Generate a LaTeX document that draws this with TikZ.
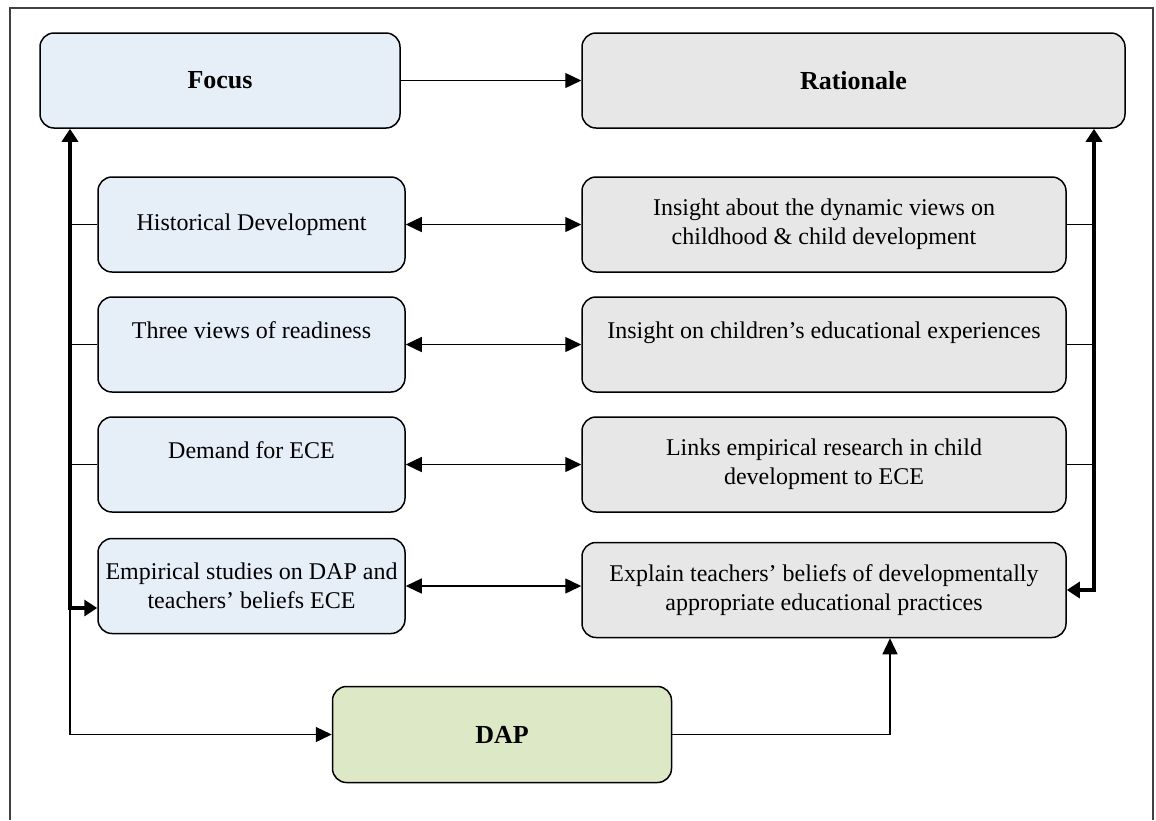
\documentclass[tikz,border=0pt]{standalone}
\usepackage{fontspec}
\setmainfont{Liberation Serif}
\usetikzlibrary{positioning,calc,arrows.meta}
\definecolor{focusblue}{RGB}{230,238,248}
\definecolor{ratgray}{RGB}{231,231,231}
\definecolor{dapgreen}{RGB}{221,233,198}

\begin{document}
\begin{tikzpicture}[x=0.5pt,y=-0.5pt]
\tikzset{box/.style={draw,line width=0.75pt,rounded corners=7pt,align=center,font=\fontsize{12}{14.5}\selectfont},
  focbox/.style={box,fill=focusblue,minimum width=153.5pt,minimum height=47.5pt},
  ratbox/.style={box,fill=ratgray,minimum width=242pt,minimum height=47.5pt},
  head/.style={font=\fontsize{13}{15}\selectfont\bfseries},
  arr/.style={line width=0.7pt,-{Triangle[length=8pt,width=7.5pt]}},
  dbl/.style={line width=0.7pt,{Triangle[length=8pt,width=7.5pt]}-{Triangle[length=8pt,width=7.5pt]}},
  thickboth/.style={line width=2pt,{Triangle[length=6.5pt,width=8pt]}-{Triangle[length=6.5pt,width=8pt]}},
  link/.style={line width=0.7pt}};
   \useasboundingbox (0,0) rectangle (1156,820);
   \draw[black!75,line width=0.8pt] (10,820) -- (10,8) -- (1153,8) -- (1153,820);

   \node[box,head,fill=focusblue,minimum width=180pt,minimum height=47.5pt] (focus) at (220,80.5) {Focus};
   \node[box,head,fill=ratgray,minimum width=271.5pt,minimum height=47.5pt] (rationale) at (853.5,80.5) {Rationale};

   \node[focbox] (hist) at (251.5,224.5) {Historical Development};
   \node[focbox] (three) at (251.5,344.5) {Three views of readiness\\~};
   \node[focbox] (demand) at (251.5,464.5) {Demand for ECE\\~};
   \node[focbox] (emp) at (251.5,586) {Empirical studies on DAP and\\teachers’ beliefs ECE};

   \node[ratbox] (insight) at (824,224.5) {Insight about the dynamic views on\\childhood \& child development};
   \node[ratbox] (children) at (824,344.5) {Insight on children’s educational experiences\\~};
   \node[ratbox] (links) at (824,464.5) {Links empirical research in child\\development to ECE};
   \node[ratbox] (explain) at (824,590) {Explain teachers’ beliefs of developmentally\\appropriate educational practices};

   \node[box,head,fill=dapgreen,minimum width=169.5pt,minimum height=48pt] (dap) at (502,734.5) {DAP};

   \coordinate (sl) at (70,608);
   \coordinate (sr) at (1094,590);

   \draw[arr] (focus) -- (rationale);
   \draw[dbl] (hist) -- (insight);
   \draw[dbl] (three) -- (children);
   \draw[dbl] (demand) -- (links);
   \draw[dbl] (emp.east) -- (emp.east -| explain.west);

   \draw[thickboth] (sl |- focus.south) -- (sl) -- (sl -| emp.west);
   \draw[thickboth] (sr |- rationale.south) -- (sr) -- (explain.east);
   \foreach \n in {hist,three,demand} \draw[link] (\n.west) -- (\n.west -| sl);
   \foreach \n in {insight,children,links} \draw[link] (\n.east) -- (\n.east -| sr);

   \draw[arr] (sl) |- (dap.west);
   \draw[arr] (dap.east) -| ([xshift=33pt]explain.south);
\end{tikzpicture}
\end{document}
